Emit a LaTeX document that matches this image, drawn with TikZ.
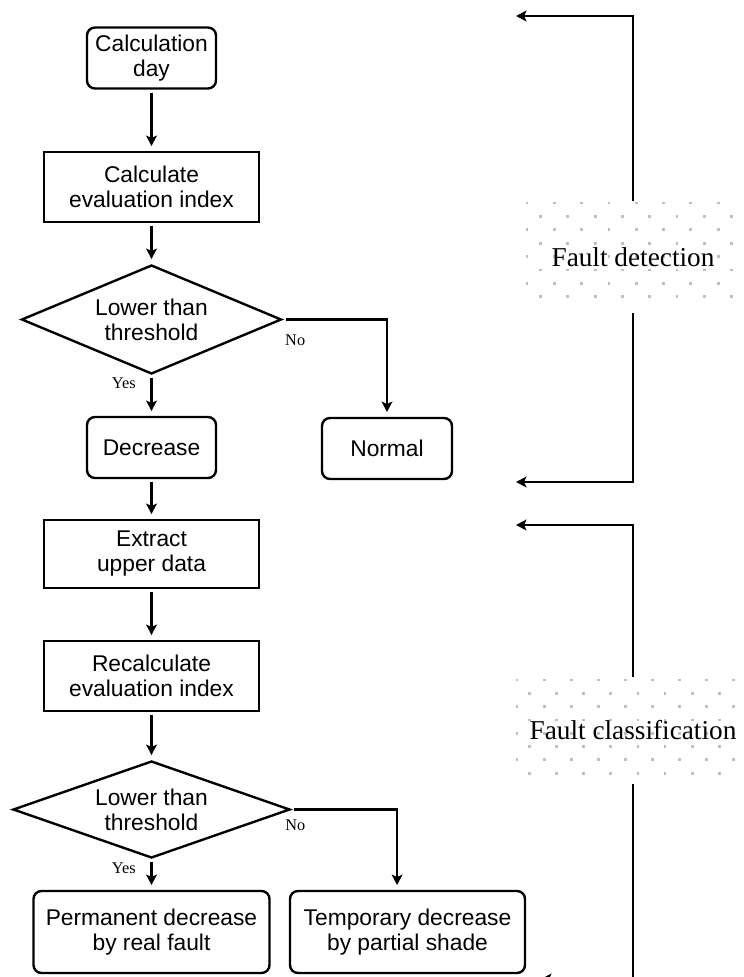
\documentclass[tikz,border=0pt]{standalone}
\usepackage{fontspec}
\setmainfont{Liberation Serif}
\setsansfont{Liberation Sans}
\usetikzlibrary{arrows.meta,positioning,shapes.geometric}

\begin{document}
\begin{tikzpicture}[x=1cm,y=1cm,
  proc/.style={draw, line width=1.7pt, minimum width=5.375cm, minimum height=1.75cm,
               align=center, inner sep=2pt, font=\sffamily\fontsize{16.2}{17.8}\selectfont},
  term/.style={proc, rounded corners=0.2cm, minimum width=3.225cm, minimum height=1.525cm},
  result/.style={term, minimum width=5.9cm, minimum height=2.05cm},
  decide/.style={draw, diamond, aspect=2.4, line width=1.7pt, inner sep=0pt,
                 align=center, font=\sffamily\fontsize{16.2}{17.8}\selectfont},
  lbl/.style={font=\fontsize{11.6}{13}\selectfont},
  stage/.style={inner sep=0pt, minimum width=5cm, font=\fontsize{19.4}{22}\selectfont},
  dot/.style={fill=black!25},
  arr/.style={-{Stealth[length=0.26cm,width=0.27cm,inset=0.06cm]}, line width=1.7pt,
              shorten >=0.12cm, shorten <=0.08cm},
  brk/.style={-{Stealth[length=0.26cm,width=0.27cm,inset=0.06cm]}, line width=1.7pt}
]
\useasboundingbox (0,0) rectangle (18.6,-24.425);

% flow chart
\node[term]   (day)     at (3.7875,-1.45)    {Calculation\\day};
\node[proc]   (calc)    at (3.7875,-4.675)   {Calculate\\evaluation index};
\node[decide, minimum width=6.5cm, minimum height=2.725cm]
              (dec1)    at (3.7875,-7.9875)  {Lower than\\threshold};
\node[term]   (decr)    at (3.7875,-11.1875) {Decrease};
\node[term, minimum width=3.25cm]
              (normal)  at (9.675,-11.2125)  {Normal};
\node[proc, minimum height=1.7cm]
              (extract) at (3.7875,-13.85)   {Extract\\upper data};
\node[proc]   (recalc)  at (3.7875,-16.9)    {Recalculate\\evaluation index};
\node[decide, minimum width=6.925cm, minimum height=2.425cm]
              (dec2)    at (3.7875,-20.2375) {Lower than\\threshold};
\node[result] (perm)    at (3.7875,-23.3)    {Permanent decrease\\by real fault};
\node[result, minimum width=5.875cm]
              (temp)    at (10.1875,-23.3)   {Temporary decrease\\by partial shade};

\draw[arr] (day) -- (calc);
\draw[arr] (calc) -- (dec1);
\draw[arr] (dec1) -- node[lbl, left=0.25cm, pos=0.21]{Yes} (decr);
\draw[arr] (dec1.east) -| node[lbl, below=0.23cm, pos=0.06]{No} (normal.north);
\draw[arr] (decr) -- (extract);
\draw[arr] (extract) -- (recalc);
\draw[arr] (recalc) -- (dec2);
\draw[arr] (dec2) -- node[lbl, left=0.25cm, pos=0.3]{Yes} (perm);
\draw[arr] (dec2.east) -| node[lbl, below=0.11cm, pos=0.02]{No} ([xshift=-0.26cm]temp.north);

% dotted stage labels
\foreach \r in {0,...,7}
  \foreach \c in {0,...,7}
    \fill[dot] ({13.14+0.6825*\c+0.3375*mod(\r,2)},{-5.04-0.335*\r}) rectangle ++(0.07,-0.07);
\foreach \r in {0,...,7}
  \foreach \c in {0,...,8}
    \fill[dot] ({12.89+0.6775*\c+0.3125*mod(\r,2)},{-16.965-0.3325*\r}) rectangle ++(0.07,-0.07);

\node[stage, minimum height=2.8cm]   (detect)   at (15.825,-6.425)   {Fault detection};
\node[stage, minimum height=2.675cm] (classify) at (15.825,-18.2625) {Fault classification};

\coordinate (detIn)  at (12.9,-0.4);
\coordinate (detOut) at (12.9,-12.05);
\coordinate (clsIn)  at (12.9,-13.125);
\coordinate (clsOut) at (13.525,-24.475);

\draw[brk] (detect.north) |- (detIn);
\draw[brk] (detect.south) |- (detOut);
\draw[brk] (classify.north) |- (clsIn);
\draw[brk] (classify.south) |- (clsOut);
\end{tikzpicture}
\end{document}
